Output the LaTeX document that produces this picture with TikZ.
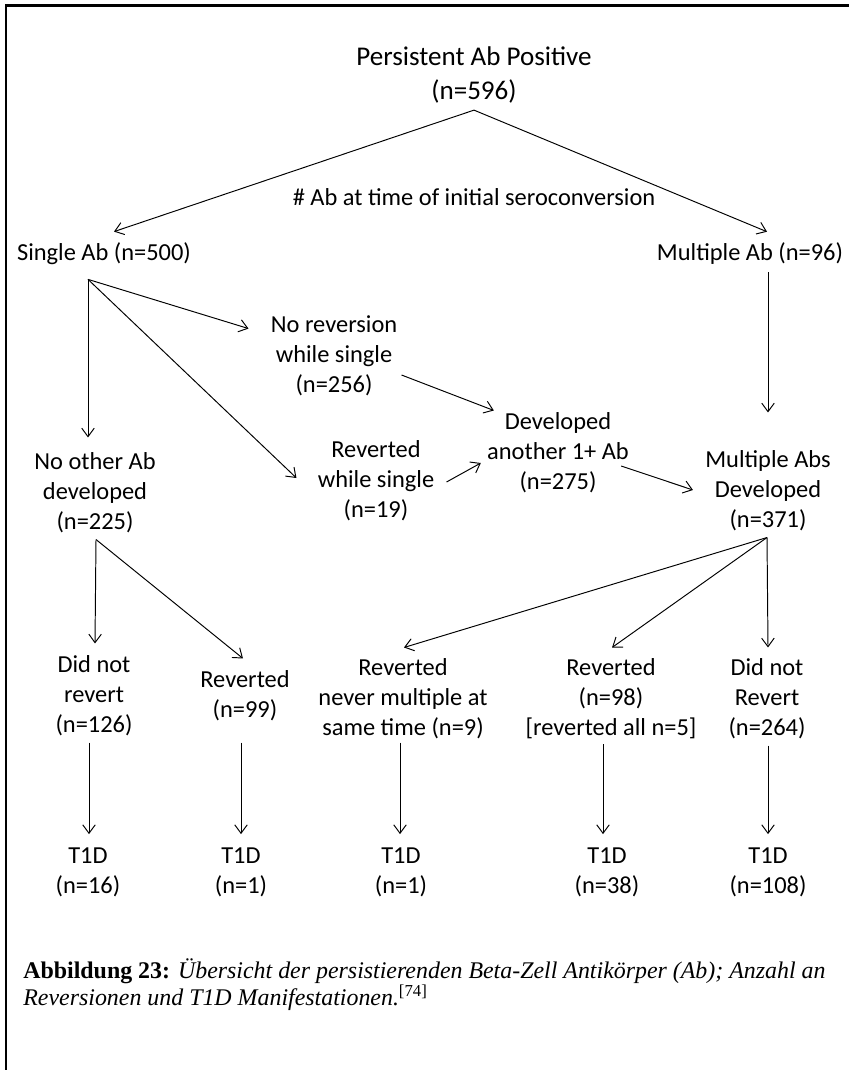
\documentclass[tikz,border=0pt]{standalone}
\usepackage{fontspec}
\setmainfont{Carlito}
\newfontfamily\capfont{Liberation Serif}
\usetikzlibrary{calc,arrows.meta}

\begin{document}
\begin{tikzpicture}[x=0.02cm,y=-0.02cm,
	lbl/.style={align=center,inner sep=0pt,font=\fontsize{13.9}{17.07}\selectfont},
	arr/.style={line width=0.55pt,-{Straight Barb[length=1.7mm,width=2.5mm]}}]
	\useasboundingbox (0,0) rectangle (849,1070);
	\draw[line width=1.7pt] (6,1070) -- (6,6) -- (849,6);
	% top
	\node[lbl,font=\fontsize{15.4}{18.8}\selectfont] (top) at (474,75) {Persistent Ab Positive\\(n=596)};
	\node[lbl] (sero) at (474,197) {\# Ab at time of initial seroconversion};
	\node[lbl] (single) at (104,254) {Single Ab (n=500)};
	\node[lbl] (multab) at (750,254) {Multiple Ab (n=96)};
	% middle
	\node[lbl] (norev) at (334,356) {No reversion\\while single\\(n=256)};
	\node[lbl] (rws) at (376,481) {Reverted\\while single\\(n=19)};
	\node[lbl] (devan) at (558,453) {Developed\\another 1+ Ab\\(n=275)};
	\node[lbl] (noother) at (95,493) {No other Ab\\developed\\(n=225)};
	\node[lbl] (multabs) at (768,491) {Multiple Abs\\Developed\\(n=371)};
	% outcomes
	\node[lbl] (didnot1) at (94,696) {Did not\\revert\\(n=126)};
	\node[lbl] (rev99) at (245,696) {Reverted\\(n=99)};
	\node[lbl] (revnev) at (403,699) {Reverted\\never multiple at\\same time (n=9)};
	\node[lbl] (rev98) at (611,699) {Reverted\\(n=98)\\{[reverted all n=5]}};
	\node[lbl] (didnot2) at (767,699) {Did not\\Revert\\(n=264)};
	% T1D
	\node[lbl] (t1) at (88,872) {T1D\\(n=16)};
	\node[lbl] (t2) at (241,872) {T1D\\(n=1)};
	\node[lbl] (t3) at (401,872) {T1D\\(n=1)};
	\node[lbl] (t4) at (607,872) {T1D\\(n=38)};
	\node[lbl] (t5) at (768,872) {T1D\\(n=108)};
	\node[anchor=north west,align=left,inner sep=0pt,font=\capfont\fontsize{13.6}{15.4}\selectfont] (cap) at (23,958)
		{\textbf{Abbildung 23:} \textit{Übersicht der persistierenden Beta-Zell Antikörper (Ab); Anzahl an}\\\textit{Reversionen und T1D Manifestationen.}\textsuperscript{[74]}};

	% connectors
	\coordinate (tophub) at ($(top.south)+(0,7)$);
	\draw[arr] (tophub) -- ($(single.north)+(10,-11)$);
	\draw[arr] (tophub) -- ($(multab.north)+(17,-11)$);
	\coordinate (singhub) at ($(single.south)+(-16,14)$);
	\draw[arr] (singhub) -- ($(norev.north west)+(-22,13)$);
	\draw[arr] (singhub) -- ($(rws.west)+(-21,-3)$);
	\draw[arr] (singhub) -- ($(noother.north)+(-7,-15)$);
	\draw[arr] ($(norev.east)+(4,19)$) -- ($(devan.north west)+(7,-2)$);
	\draw[arr] ($(rws.east)+(12,1)$) -- ($(devan.west)+(-6,10)$);
	\draw[arr] ($(devan.east)+(-8,13)$) -- ($(multabs.west)+(-12,-1)$);
	\draw[arr] ($(multab.south)+(18,7)$) -- ($(multabs.north)+(0,-38)$);
	\coordinate (nohub) at ($(noother.south)+(1,6)$);
	\draw[arr] (nohub) -- ($(didnot1.north)+(1,-12)$);
	\draw[arr] (nohub) -- ($(rev99.north)+(-2,-12)$);
	\coordinate (mhub) at ($(multabs.south)+(-1,6)$);
	\draw[arr] (mhub) -- ($(revnev.north)+(1,-11)$);
	\draw[arr] (mhub) -- ($(rev98.north)+(1,-11)$);
	\draw[arr] (mhub) -- ($(didnot2.north)+(1,-11)$);
	\draw[arr] ($(t1 |- didnot1.south)+(1,6)$) -- ($(t1.north)+(1,-13)$);
	\draw[arr] ($(t2 |- rev99.south)+(0,21)$) -- ($(t2.north)+(0,-13)$);
	\draw[arr] ($(t3 |- revnev.south)+(-1,3)$) -- ($(t3.north)+(-1,-13)$);
	\draw[arr] ($(t4 |- rev98.south)+(-4,5)$) -- ($(t4.north)+(-4,-13)$);
	\draw[arr] ($(t5 |- didnot2.south)+(0,6)$) -- ($(t5.north)+(0,-13)$);
\end{tikzpicture}
\end{document}
